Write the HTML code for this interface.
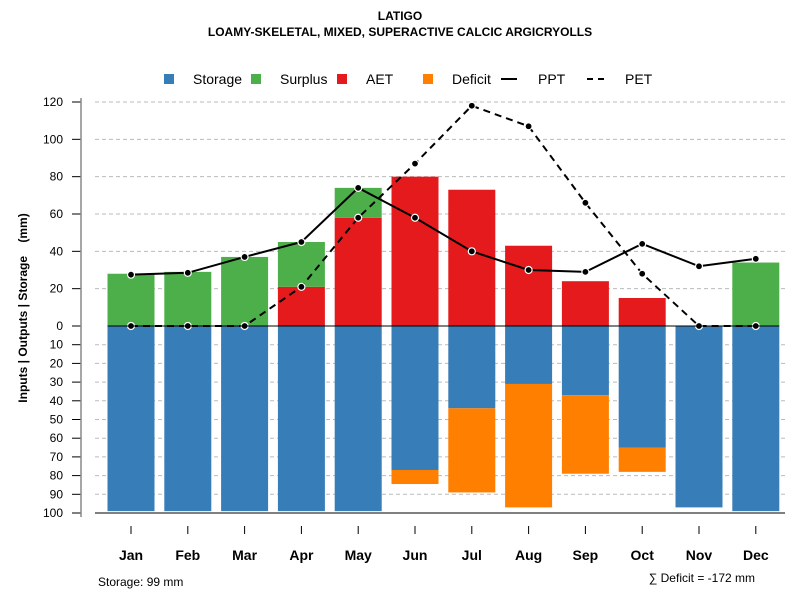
<!DOCTYPE html>
<html><head><meta charset="utf-8">
<style>
body{margin:0;background:#fff;}
svg text{font-family:"Liberation Sans",sans-serif;}
</style></head>
<body>
<svg id="chart" width="800" height="600" viewBox="0 0 800 600">
<text x="400" y="20" text-anchor="middle" font-size="12" font-weight="bold">LATIGO</text>
<text x="400" y="36" text-anchor="middle" font-size="12" font-weight="bold">LOAMY-SKELETAL, MIXED, SUPERACTIVE CALCIC ARGICRYOLLS</text>
<g font-size="14">
<rect x="164" y="74" width="10" height="10" fill="#377EB8"/>
<text x="193" y="84">Storage</text>
<rect x="251" y="74" width="10" height="10" fill="#4DAF4A"/>
<text x="280" y="84">Surplus</text>
<rect x="337" y="74" width="10" height="10" fill="#E41A1C"/>
<text x="366" y="84">AET</text>
<rect x="423" y="74" width="10" height="10" fill="#FF7F00"/>
<text x="452" y="84">Deficit</text>
<line x1="501" y1="79" x2="517" y2="79" stroke="#000" stroke-width="2"/>
<text x="538" y="84">PPT</text>
<line x1="587" y1="79" x2="609" y2="79" stroke="#000" stroke-width="2" stroke-dasharray="6,5"/>
<text x="625" y="84">PET</text>
</g>
<text transform="translate(27,308) rotate(-90)" text-anchor="middle" font-size="12" font-weight="bold" xml:space="preserve">Inputs | Outputs | Storage    (mm)</text>
<text x="98" y="586" font-size="12">Storage: 99 mm</text>
<text x="755" y="582" text-anchor="end" font-size="12">∑ Deficit = -172 mm</text>
<g id="grid"></g><g id="bars"></g><g id="lines"></g><g id="axes"></g>
</svg>
<script>
const months=["Jan","Feb","Mar","Apr","May","Jun","Jul","Aug","Sep","Oct","Nov","Dec"];
const storage=[99,99,99,99,99,77,44,31,37,65,97,99];
const deficit=[0,0,0,0,0,7.5,45,66,42,13,0,0];
const aet=[0,0,0,21,58,80,73,43,24,15,0,0];
const surplus=[28,29,37,24,16,0,0,0,0,0,0,34];
const ppt=[27.5,28.5,37,45,74,58,40,30,29,44,32,36];
const pet=[0,0,0,21,58,87,118,107,66,28,0,0];
const upTicks=[0,20,40,60,80,100,120];
const downTicks=[10,20,30,40,50,60,70,80,90,100];
const NS="http://www.w3.org/2000/svg";
function yUp(v){return 326-v*(224/120);}
function yDown(v){return 326+v*(187/100);}
function xC(i){return 131+i*56.8;}
const BW=47;
function mk(tag,attrs,parent){const e=document.createElementNS(NS,tag);for(const k in attrs)e.setAttribute(k,attrs[k]);document.getElementById(parent).appendChild(e);return e;}
upTicks.forEach(t=>{
 if(t>0){const g=mk('line',{x1:95,x2:785,y1:yUp(t),y2:yUp(t),stroke:'#bbb','stroke-dasharray':'4,3'},'grid');
 
 }
 const l=mk('text',{x:63,y:yUp(t)+4,'text-anchor':'end','font-size':12},'axes');l.textContent=t;
 
 
 const tk=mk('line',{x1:72,x2:81,y1:yUp(t),y2:yUp(t),stroke:'#000'},'axes');
 
 
});
downTicks.forEach(t=>{
 const g=mk('line',{x1:95,x2:785,y1:yDown(t),y2:yDown(t),stroke:'#bbb','stroke-dasharray':'4,3'},'grid');
 
 
 const l=mk('text',{x:63,y:yDown(t)+4,'text-anchor':'end','font-size':12},'axes');l.textContent=t;
 
 
 const tk=mk('line',{x1:72,x2:81,y1:yDown(t),y2:yDown(t),stroke:'#000'},'axes');
 
 
});
const ya=mk('line',{x1:81,x2:81,y1:yUp(120)-4,y2:yDown(100)+4,stroke:'#888','stroke-width':1.5},'axes');


months.forEach((m,i)=>{
 const x=xC(i)-BW/2;
 function bar(v0,v1,f,up,name){
  if(v1-v0<=0)return;
  const y0=up?yUp(v1):yDown(v0), y1=up?yUp(v0):yDown(v1);
  const r=mk('rect',{x:x,y:y0,width:BW,height:y1-y0,fill:f},'bars');
  
  
 }
 bar(0,aet[i],'#E41A1C',true,'bar-aet-'+m.toLowerCase());
 bar(aet[i],aet[i]+surplus[i],'#4DAF4A',true,'bar-surplus-'+m.toLowerCase());
 bar(0,storage[i],'#377EB8',false,'bar-storage-'+m.toLowerCase());
 bar(storage[i],storage[i]+deficit[i],'#FF7F00',false,'bar-deficit-'+m.toLowerCase());
 const t=mk('text',{x:xC(i),y:560,'text-anchor':'middle','font-size':14,'font-weight':'bold'},'axes');t.textContent=m;
 
 
 const tk=mk('line',{x1:xC(i),x2:xC(i),y1:526,y2:534,stroke:'#000'},'axes');
 
 
});
const z=mk('line',{x1:xC(0)-BW/2,x2:xC(11)+BW/2,y1:326,y2:326,stroke:'#000'},'axes');


const xa=mk('line',{x1:95,x2:785,y1:513,y2:513,stroke:'#000'},'axes');


function series(vals,dash,name){
 const pts=vals.map((v,i)=>xC(i)+','+yUp(v)).join(' ');
 const p=mk('polyline',{points:pts,fill:'none',stroke:'#000','stroke-width':2,'stroke-dasharray':dash},'lines');
 
 
 vals.forEach((v,i)=>{
  const c=mk('circle',{cx:xC(i),cy:yUp(v),r:3.5,fill:'#000',stroke:'#fff','stroke-width':1.2},'lines');
  
  
 });
}
series(pet,'7,5','pet');
series(ppt,'none','ppt');
</script>
</body></html>
